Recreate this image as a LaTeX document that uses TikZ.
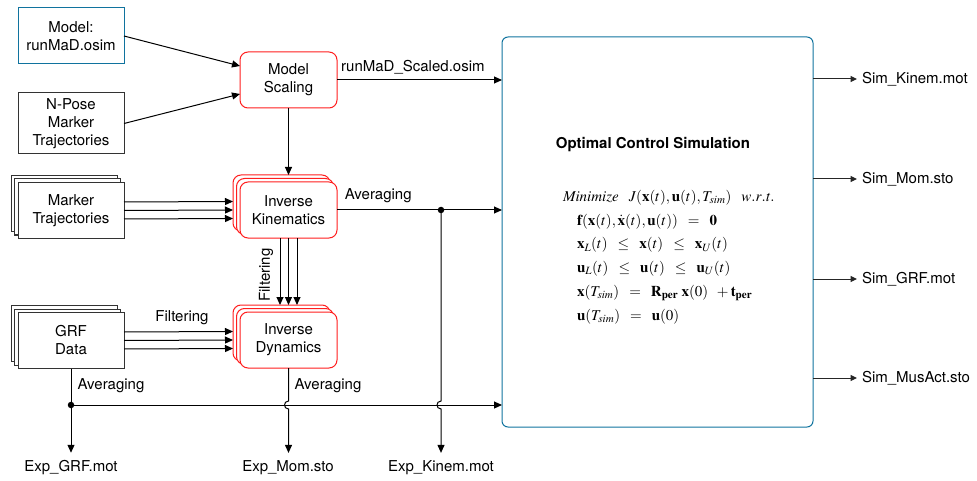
\documentclass[tikz,border=0pt]{standalone}
\usepackage{mathptmx}
\usepackage[no-math]{fontspec}
\setmainfont{TeX Gyre Heros}
\usetikzlibrary{arrows.meta,shadows,calc}
\definecolor{ocsblue}{RGB}{16,115,158}
\definecolor{boxred}{RGB}{255,30,30}
\begin{document}
\begin{tikzpicture}[x=1pt,y=-1pt,
  font=\fontsize{15}{18}\selectfont,
  every node/.style={inner sep=0pt, outer sep=0pt},
  box/.style={draw=black!80, line width=1pt, fill=white, align=center,
    minimum width=106pt, minimum height=56pt},
  modelbox/.style={box, draw=ocsblue},
  proc/.style={draw=boxred, line width=1pt, fill=white, rounded corners=8pt,
    align=center, minimum width=97pt, minimum height=56pt},
  stackbox/.style={copy shadow={shadow xshift=-7pt, shadow yshift=7pt},
    copy shadow={shadow xshift=-3.5pt, shadow yshift=3.5pt}},
  arr/.style={-{Triangle[length=8pt,width=7pt]}, line width=1pt},
  outarr/.style={-{Triangle[length=6.5pt,width=6pt]}, line width=1pt, draw=black!85},
  dot/.style={circle, fill=black, minimum size=6.5pt, inner sep=0pt},
]
\useasboundingbox (0,0) rectangle (977,481);

% boxes
\node[modelbox] (model) at (71,36) {Model:\\runMaD.osim};
\node[box, minimum height=61pt] (npose) at (71,123.5) {N-Pose\\Marker\\Trajectories};
\node[proc] (scal) at (288.5,80) {Model\\Scaling};
\node[box, stackbox] (mk) at (71,210.5) {Marker\\Trajectories};
\node[proc, stackbox] (ik) at (288.5,210) {Inverse\\Kinematics};
\node[box, stackbox] (grf) at (71,340.5) {GRF\\Data};
\node[proc, stackbox] (id) at (288.5,340) {Inverse\\Dynamics};
\node[draw=ocsblue, line width=1pt, rounded corners=6pt,
  minimum width=311pt, minimum height=390pt] (ocs) at (657.5,232) {};

\node[font=\fontsize{15}{18}\selectfont\bfseries] (title) at (653,145) {Optimal Control Simulation};
\node[anchor=west, align=left, font=\fontsize{15}{23.8}\selectfont] (eq) at (563,257)
 {$\mathit{Minimize}\;\;\; J(\mathbf{x}(t),\mathbf{u}(t),T_{sim})\;\;\; \mathit{w.r.t.}$\\
  \hspace*{14pt}$\mathbf{f}(\mathbf{x}(t),\dot{\mathbf{x}}(t),\mathbf{u}(t))\;\;=\;\;\mathbf{0}$\\
  \hspace*{14pt}$\mathbf{x}_L(t)\;\;\leq\;\;\mathbf{x}(t)\;\;\leq\;\;\mathbf{x}_U(t)$\\
  \hspace*{14pt}$\mathbf{u}_L(t)\;\;\leq\;\;\mathbf{u}(t)\;\;\leq\;\;\mathbf{u}_U(t)$\\
  \hspace*{14pt}$\mathbf{x}(T_{sim})\;\;=\;\;\mathbf{R}_{\mathbf{per}}\;\mathbf{x}(0)\;\;+\mathbf{t}_{\mathbf{per}}$\\
  \hspace*{14pt}$\mathbf{u}(T_{sim})\;\;=\;\;\mathbf{u}(0)$};

% outputs
\node[anchor=west] (o1) at (862,79) {Sim\_Kinem.mot};
\node[anchor=west] (o2) at (862,179) {Sim\_Mom.sto};
\node[anchor=west] (o3) at (862,279) {Sim\_GRF.mot};
\node[anchor=west] (o4) at (862,378) {Sim\_MusAct.sto};
\foreach \o in {o1,o2,o3,o4}
  \draw[outarr] (\o.west -| ocs.east) -- ([xshift=-5pt]\o.west);

\node (eg) at (71,468) {Exp\_GRF.mot};
\node (em) at (288,468) {Exp\_Mom.sto};
\node (ek) at (441,468) {Exp\_Kinem.mot};

\node[dot] (d1) at (71,405) {};
\node[dot] (d2) at (441,210) {};

% connectors
\draw[arr] (model.east) -- ([yshift=14pt]scal.west);
\draw[arr] (npose.east) -- ([yshift=-14pt]scal.west);
\draw[arr] (scal.south) -- ([yshift=7pt]ik.north);
\draw[arr] (scal.east) -- (scal.east -| ocs.west)
  node[pos=0.46, yshift=13pt] (lscal) {runMaD\_Scaled.osim};

\foreach \d in {8.5,0,-8.5}
  \draw[arr] ([yshift=\d pt]mk.east) -- ([yshift=\d pt, xshift=-7pt]ik.west -| ik.west);
\foreach \d in {8.5,0,-8.5}
  \draw[arr] ([yshift=\d pt]grf.east) -- ([yshift=\d pt, xshift=-7pt]id.west -| id.west);
\foreach \d in {-8.5,0,8.5}
  \draw[arr] ([xshift=\d pt]ik.south) -- ([xshift=\d pt, yshift=7pt]id.north);

\node[rotate=90] (lfilt1) at (266,275) {Filtering};
\node (lfilt2) at (182,318) {Filtering};

\draw[arr] (ik.east) -- (ik.east -| ocs.west)
  node[pos=0.25, yshift=14pt] (lavg1) {Averaging};

\draw[arr] (grf.south) -- ([yshift=8pt]eg.north);
\draw[arr] (d1) -- (d1 -| ocs.west);
\node (lavg2) at (111,386) {Averaging};
\node (lavg3) at (328,386) {Averaging};

\draw[arr] (id.south) -- ($(id.south |- d1)+(0,-4)$)
  .. controls ($(id.south |- d1)+(-5.3,-4)$) and ($(id.south |- d1)+(-5.3,4)$)
  .. ($(id.south |- d1)+(0,4)$) -- ([yshift=8pt]em.north -| id.south);
\draw[arr] (d2) -- ($(d2 |- d1)+(0,-4)$)
  .. controls ($(d2 |- d1)+(-5.3,-4)$) and ($(d2 |- d1)+(-5.3,4)$)
  .. ($(d2 |- d1)+(0,4)$) -- ([yshift=8pt]ek.north -| d2);
\end{tikzpicture}
\end{document}
